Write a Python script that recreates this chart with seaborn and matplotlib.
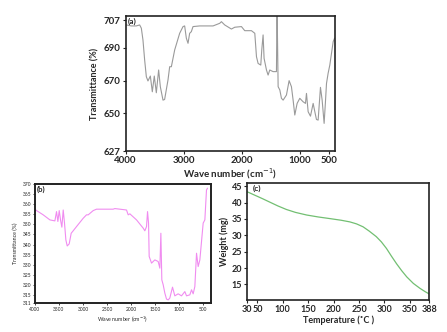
import numpy as np
import pandas as pd
import matplotlib
matplotlib.use("Agg")
import matplotlib.pyplot as plt
import seaborn as sns

# (a) FTIR spectrum of the extract
ir_a_wave = [4000, 3988, 3902, 3816, 3758, 3729, 3701, 3672, 3643, 3615, 3574, 3540, 3506,
             3471, 3431, 3402, 3356, 3328, 3270, 3241, 3212, 3155, 3069, 3011, 2983,
             2954, 2925, 2897, 2868, 2839, 2724, 2494, 2379, 2350, 2293, 2178, 2120,
             2005, 1948, 1833, 1775, 1746, 1718, 1672, 1655, 1632, 1615, 1574, 1546,
             1517, 1460, 1402, 1393, 1390, 1373, 1344, 1316, 1287, 1230, 1184, 1144,
             1115, 1086, 1046, 1000, 943, 902, 885, 856, 816, 770, 741, 713,
             684, 644, 615, 581, 558, 540, 512, 483, 454, 425, 400]
ir_a_trans = [703.8, 704.0, 703.4, 703.4, 704.0, 702.0, 694.8, 682.6, 672.4, 669.8, 672.8, 663.2, 672.8,
              662.6, 676.5, 666.3, 658.1, 658.5, 670.4, 678.5, 678.5, 688.7, 698.9, 703.0, 703.4,
              695.9, 692.8, 698.9, 699.9, 703.0, 703.4, 703.4, 705.0, 706.0, 704.0, 701.5, 702.6,
              703.0, 700.5, 700.5, 698.9, 684.6, 680.5, 679.5, 688.7, 697.9, 683.6, 676.5, 673.4,
              676.5, 675.5, 675.5, 712.0, 712.0, 666.3, 664.3, 659.2, 658.1, 661.2, 670.0, 666.3,
              658.1, 649.0, 656.1, 659.2, 657.1, 656.1, 662.2, 651.0, 648.3, 656.1, 651.0, 646.3,
              645.9, 665.9, 658.1, 643.9, 657.1, 668.3, 674.5, 679.5, 686.7, 693.8, 696.0]

# (b) FTIR spectrum of the nanoparticles
ir_b_wave = [4000, 3965, 3827, 3688, 3584, 3550, 3522, 3494, 3467, 3439, 3411, 3384, 3356,
             3328, 3287, 3245, 3217, 3134, 2996, 2927, 2892, 2788, 2719, 2373, 2338,
             2096, 2061, 2026, 1888, 1749, 1715, 1680, 1659, 1638, 1625, 1576, 1507,
             1438, 1403, 1382, 1362, 1334, 1300, 1265, 1230, 1196, 1140, 1092, 1023,
             953, 884, 849, 780, 745, 711, 676, 641, 607, 572, 503, 468, 434, 413]
ir_b_trans = [357.5, 356.8, 354.7, 352.2, 351.7, 356.3, 351.4, 356.8, 352.2, 348.6, 357.1, 350.6, 342.3,
              339.3, 340.3, 345.6, 346.4, 348.9, 353.0, 354.7, 354.7, 356.8, 357.5, 357.5, 357.8,
              357.1, 354.7, 355.2, 352.2, 348.1, 346.8, 348.9, 356.3, 350.6, 334.1, 330.8, 332.4,
              331.6, 328.3, 345.6, 322.5, 320.1, 316.0, 313.0, 312.6, 313.5, 318.9, 314.6, 315.6,
              314.6, 316.7, 314.6, 315.1, 317.6, 315.6, 319.2, 335.7, 329.1, 332.4, 350.6, 352.2,
              367.0, 367.9]

# (c) thermogravimetric curve
tga_temp = [30, 40, 50, 60, 75, 90, 107, 125, 147, 170, 193, 215, 232, 245, 258, 270,
            284, 294, 304, 314, 324, 334, 344, 357, 370, 380, 388]
tga_weight = [43.3, 42.6, 41.9, 41.2, 40.1, 39.0, 37.9, 37.0, 36.2, 35.6, 35.1, 34.6, 34.1,
              33.5, 32.6, 31.3, 29.6, 28.0, 26.0, 23.6, 21.3, 19.2, 17.3, 15.3, 13.8, 12.8, 12.1]

a_xticks = [4000, 3000, 2000, 1000, 500]
a_yticks = [627, 650, 670, 690, 707]
b_xticks = [4000, 3500, 3000, 2500, 2000, 1500, 1000, 500]
b_yticks = [311, 315, 320, 325, 330, 335, 340, 345, 350, 355, 360, 365, 370]
c_xticks = [30, 50, 100, 150, 200, 250, 300, 350, 388]
c_yticks = [15, 20, 25, 30, 35, 40, 45]

sns.set_style("ticks")
plt.rcParams["font.family"] = ["Lato", "DejaVu Sans"]

fig = plt.figure(figsize=(4.47, 3.32), dpi=100)
ax_a = fig.add_axes([0.281, 0.545, 0.468, 0.407])
ax_b = fig.add_axes([0.078, 0.087, 0.393, 0.359])
ax_c = fig.add_axes([0.553, 0.096, 0.407, 0.353])


def frame(ax, lw):
    for s in ax.spines.values():
        s.set_visible(True)
        s.set_linewidth(lw)
        s.set_color("#222222")


# panel (a)
df_a = pd.DataFrame({"wave": ir_a_wave, "trans": ir_a_trans})
sns.lineplot(data=df_a, x="wave", y="trans", ax=ax_a, sort=False, estimator=None,
             color="#9a9a9a", linewidth=0.8)
ax_a.set_xlim(4000, 397)
ax_a.set_ylim(627, 709.5)
ax_a.set_xticks(a_xticks)
ax_a.set_yticks(a_yticks)
ax_a.tick_params(labelsize=7, length=2.5, width=0.8, pad=1)
for t in ax_a.get_xticklabels() + ax_a.get_yticklabels():
    t.set_fontweight("bold")
ax_a.set_xlabel("Wave number (cm$^{-1}$)", fontsize=7, fontweight="bold", labelpad=1)
ax_a.set_ylabel("Transmittance (%)", fontsize=6.5, fontweight="bold", labelpad=3)
ax_a.text(0.01, 0.985, "(a)", transform=ax_a.transAxes, fontsize=6, fontweight="bold",
          va="top", ha="left")
frame(ax_a, 1.2)

# panel (b)
df_b = pd.DataFrame({"wave": ir_b_wave, "trans": ir_b_trans})
sns.lineplot(data=df_b, x="wave", y="trans", ax=ax_b, sort=False, estimator=None,
             color="#f08cf0", linewidth=0.8)
ax_b.set_xlim(4000, 350)
ax_b.set_ylim(311, 370)
ax_b.set_xticks(b_xticks)
ax_b.set_yticks(b_yticks)
ax_b.tick_params(labelsize=3.5, length=1.5, width=0.6, pad=1)
ax_b.set_xlabel("Wave number (cm$^{-1}$)", fontsize=3.8, labelpad=2)
ax_b.set_ylabel("Transmittance (%)", fontsize=3.8, labelpad=3)
ax_b.text(0.01, 0.985, "(b)", transform=ax_b.transAxes, fontsize=5.5, fontweight="bold",
          va="top", ha="left")
frame(ax_b, 1.4)

# panel (c)
df_c = pd.DataFrame({"temp": tga_temp, "weight": tga_weight})
sns.lineplot(data=df_c, x="temp", y="weight", ax=ax_c, color="#72bf72", linewidth=0.9)
ax_c.set_xlim(30, 388)
ax_c.set_ylim(10.2, 46)
ax_c.set_xticks(c_xticks)
ax_c.set_yticks(c_yticks)
ax_c.tick_params(labelsize=6.5, length=2.5, width=0.8, pad=1)
for t in ax_c.get_xticklabels() + ax_c.get_yticklabels():
    t.set_fontweight("bold")
ax_c.set_xlabel("Temperature (˚C )", fontsize=6.5, fontweight="bold", labelpad=1)
ax_c.set_ylabel("Weight (mg)", fontsize=6.5, fontweight="bold", labelpad=2)
ax_c.text(0.03, 0.985, "(c)", transform=ax_c.transAxes, fontsize=6, fontweight="bold",
          va="top", ha="left")
frame(ax_c, 1.2)

fig.savefig("out.png", dpi=100, facecolor="white")
